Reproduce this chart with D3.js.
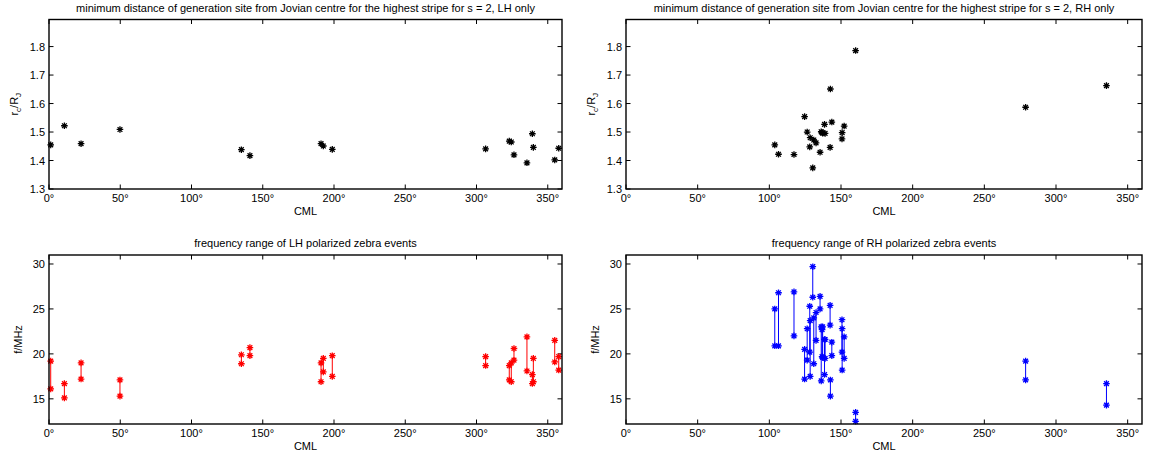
<!DOCTYPE html>
<html>
<head>
<meta charset="utf-8">
<script src="https://cdn.jsdelivr.net/npm/d3@7"></script>
<style>
  body { margin: 0; background: #fff; }
  svg { display: block; font-family: "Liberation Sans", Arial, sans-serif; }
</style>
</head>
<body>
<div id="chart"></div>
<script>
// LH events: CML (deg), r_c/R_J, upper and lower frequency (MHz)
const lhCml  = [1.2, 10.8, 22.5, 49.8, 135, 141, 190.9, 192.5, 198.8, 306.4, 323, 324.4, 326.3, 335.4, 339.2, 339.9, 354.9, 357.7];
const lhR    = [1.455, 1.522, 1.459, 1.509, 1.438, 1.417, 1.459, 1.451, 1.439, 1.441, 1.468, 1.465, 1.420, 1.392, 1.494, 1.446, 1.402, 1.443];
const lhFHi  = [19.2, 16.7, 19.0, 17.1, 19.9, 20.7, 19.0, 19.5, 19.8, 19.7, 18.7, 19.0, 20.6, 21.9, 17.7, 19.5, 21.5, 19.7];
const lhFLo  = [16.1, 15.1, 17.2, 15.3, 18.9, 19.8, 16.9, 18.0, 17.5, 18.7, 17.1, 16.9, 19.3, 18.1, 16.7, 16.9, 19.1, 18.2];

// RH events
const rhCml  = [103.8, 106.4, 117.2, 124.6, 126.4, 128.2, 128.5, 130.3, 131, 132.6, 135.4, 136.2, 136.8, 137.2, 138.5, 138.9, 142.4, 142.6, 143.6, 150.7, 150.8, 152.2, 160.2, 278.8, 335.2];
const rhR    = [1.455, 1.422, 1.421, 1.554, 1.500, 1.448, 1.480, 1.374, 1.472, 1.462, 1.429, 1.501, 1.498, 1.496, 1.527, 1.495, 1.446, 1.651, 1.535, 1.476, 1.498, 1.521, 1.786, 1.587, 1.663];
const rhFHi  = [25.0, 26.8, 26.9, 20.5, 22.8, 25.3, 23.7, 29.7, 24.0, 24.6, 26.4, 23.0, 22.7, 23.0, 21.6, 21.6, 25.4, 17.1, 21.3, 23.8, 22.8, 21.9, 13.5, 19.2, 16.7];
const rhFLo  = [20.9, 20.9, 22.0, 17.2, 19.3, 20.2, 17.5, 26.3, 18.9, 21.5, 25.0, 17.0, 19.7, 19.6, 17.7, 19.5, 23.2, 15.3, 19.8, 20.2, 18.2, 19.5, 12.5, 17.1, 14.3];

const cmlTicks = [0, 50, 100, 150, 200, 250, 300, 350];
const rTicks = [1.3, 1.4, 1.5, 1.6, 1.7, 1.8];
const fTicks = [15, 20, 25, 30];

const width = 1153, height = 461;
const svg = d3.select("#chart").append("svg")
  .attr("width", width)
  .attr("height", height);

function asterisk(r) {
  const a = r * 0.72;
  return `M${-r},0H${r}M0,${-r}V${r}M${-a},${-a}L${a},${a}M${-a},${a}L${a},${-a}`;
}

function makeEvents(cml, r, hi, lo) {
  return cml.map((c, i) => ({ cml: c, r: r[i], hi: hi[i], lo: lo[i] }));
}

function drawPanel(opt) {
  const x = d3.scaleLinear().domain([0, 360]).range([opt.left, opt.right]);
  const y = d3.scaleLinear().domain(opt.yDomain).range([opt.bottom, opt.top]);
  const g = svg.append("g");
  const tl = 4.5;

  // ticks inside the box, on all four sides
  const tk = g.append("g").attr("stroke", "#000").attr("stroke-width", 1);
  cmlTicks.forEach(t => {
    tk.append("line").attr("x1", x(t)).attr("x2", x(t)).attr("y1", opt.bottom).attr("y2", opt.bottom - tl);
    tk.append("line").attr("x1", x(t)).attr("x2", x(t)).attr("y1", opt.top).attr("y2", opt.top + tl);
  });
  opt.yTicks.forEach(t => {
    tk.append("line").attr("x1", opt.left).attr("x2", opt.left + tl).attr("y1", y(t)).attr("y2", y(t));
    tk.append("line").attr("x1", opt.right).attr("x2", opt.right - tl).attr("y1", y(t)).attr("y2", y(t));
  });

  g.append("g").selectAll("text")
    .data(cmlTicks)
    .join("text")
    .attr("x", d => x(d))
    .attr("y", opt.bottom + 13)
    .attr("text-anchor", "middle")
    .attr("font-size", 11)
    .text(d => d + "\u00b0");

  g.append("g").selectAll("text")
    .data(opt.yTicks)
    .join("text")
    .attr("x", opt.left - 4)
    .attr("y", d => y(d) + 4)
    .attr("text-anchor", "end")
    .attr("font-size", 11)
    .text(opt.yFormat);

  g.append("text")
    .attr("x", (opt.left + opt.right) / 2)
    .attr("y", opt.bottom + 26)
    .attr("text-anchor", "middle")
    .attr("font-size", 11)
    .text("CML");

  g.append("text")
    .attr("x", (opt.left + opt.right) / 2)
    .attr("y", opt.top - 8)
    .attr("text-anchor", "middle")
    .attr("font-size", 11)
    .text(opt.title);

  const yl = g.append("text")
    .attr("transform", `translate(${opt.left - 31},${(opt.top + opt.bottom) / 2}) rotate(-90)`)
    .attr("text-anchor", "middle")
    .attr("font-size", 11);
  opt.yLabel(yl);

  // vertical range lines (frequency panels)
  if (opt.range) {
    g.append("g").selectAll("line")
      .data(opt.data)
      .join("line")
      .attr("x1", d => x(d.cml)).attr("x2", d => x(d.cml))
      .attr("y1", d => y(d.hi)).attr("y2", d => y(d.lo))
      .attr("stroke", opt.color)
      .attr("stroke-width", 1);
  }

  const pts = [];
  opt.data.forEach(d => opt.values(d).forEach(v => pts.push({ cml: d.cml, v: v })));
  g.append("g").selectAll("path")
    .data(pts)
    .join("path")
    .attr("d", asterisk(3.3))
    .attr("transform", d => `translate(${x(d.cml)},${y(d.v)})`)
    .attr("fill", "none")
    .attr("stroke", opt.color)
    .attr("stroke-width", 1.3);

  g.append("rect")
    .attr("x", opt.left).attr("y", opt.top)
    .attr("width", opt.right - opt.left).attr("height", opt.bottom - opt.top)
    .attr("fill", "none")
    .attr("stroke", "#000")
    .attr("stroke-width", 1.4);
}

function rLabel(t) {
  t.append("tspan").text("r");
  t.append("tspan").attr("font-size", 8).attr("dy", 3).text("c");
  t.append("tspan").attr("dy", -3).text("/R");
  t.append("tspan").attr("font-size", 8).attr("dy", 3).text("J");
}
function fLabel(t) { t.attr("dy", 4).text("f/MHz"); }

const lhEvents = makeEvents(lhCml, lhR, lhFHi, lhFLo);
const rhEvents = makeEvents(rhCml, rhR, rhFHi, rhFLo);

const cols = [{ left: 49, right: 562 }, { left: 626, right: 1142 }];
const topRow = { top: 19.5, bottom: 189 };
const botRow = { top: 255, bottom: 424 };

drawPanel({
  ...cols[0], ...topRow,
  yDomain: [1.3, 1.895], yTicks: rTicks, yFormat: d3.format(".1f"),
  title: "minimum distance of generation site from Jovian centre for the highest stripe for s = 2, LH only",
  yLabel: rLabel, data: lhEvents, values: d => [d.r], color: "#000"
});
drawPanel({
  ...cols[1], ...topRow,
  yDomain: [1.3, 1.895], yTicks: rTicks, yFormat: d3.format(".1f"),
  title: "minimum distance of generation site from Jovian centre for the highest stripe for s = 2, RH only",
  yLabel: rLabel, data: rhEvents, values: d => [d.r], color: "#000"
});
drawPanel({
  ...cols[0], ...botRow,
  yDomain: [12.2, 31], yTicks: fTicks, yFormat: d => d,
  title: "frequency range of LH polarized zebra events",
  yLabel: fLabel, data: lhEvents, values: d => [d.hi, d.lo], color: "#ff0000", range: true
});
drawPanel({
  ...cols[1], ...botRow,
  yDomain: [12.2, 31], yTicks: fTicks, yFormat: d => d,
  title: "frequency range of RH polarized zebra events",
  yLabel: fLabel, data: rhEvents, values: d => [d.hi, d.lo], color: "#0000ff", range: true
});
</script>
</body>
</html>
